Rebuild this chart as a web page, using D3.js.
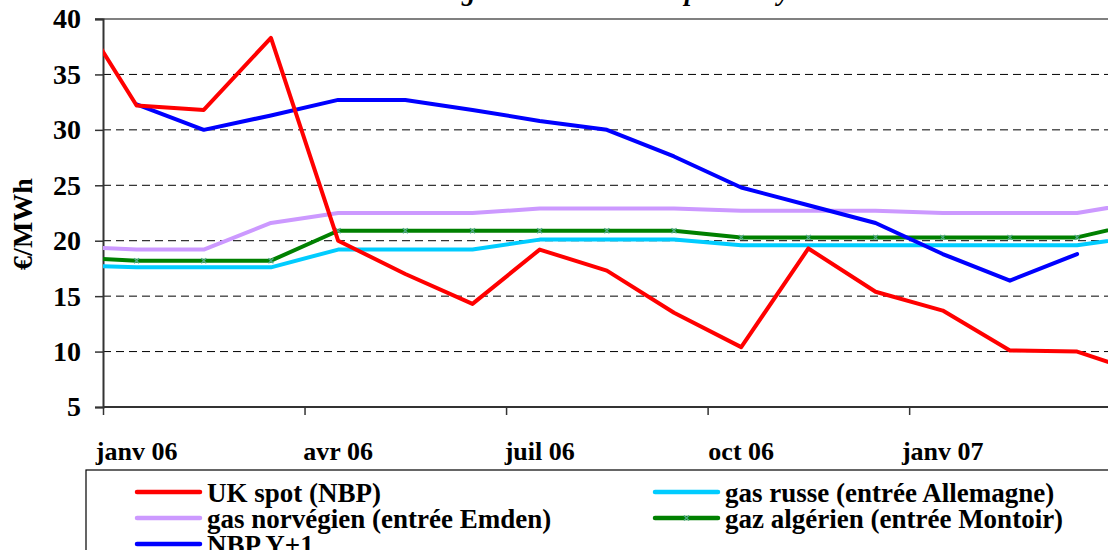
<!DOCTYPE html>
<html><head><meta charset="utf-8">
<script src="https://cdn.jsdelivr.net/npm/d3@7"></script>
<style>
html,body{margin:0;padding:0;background:#fff;}
svg{display:block;}
</style></head>
<body><svg id="c" width="1108" height="550"></svg>
<script>
// Monthly categories (Dec 05 and Apr 07 lie just outside the visible plot and are clipped)
const months = ["déc 05","janv 06","févr 06","mars 06","avr 06","mai 06","juin 06","juil 06","août 06","sept 06","oct 06","nov 06","déc 06","janv 07","févr 07","mars 07","avr 07"];
const monthIndex = [-1,0,1,2,3,4,5,6,7,8,9,10,11,12,13,14,15];
const ukSpot   = [41.9,32.2,31.8,38.3,20.0,17.0,14.3,19.2,17.3,13.5,10.4,19.3,15.4,13.7,10.1,10.0,8.0];
const gasRusse = [17.8,17.6,17.6,17.6,19.2,19.2,19.2,20.1,20.1,20.1,19.6,19.6,19.6,19.6,19.6,19.6,20.4];
const gasNorv  = [19.5,19.2,19.2,21.6,22.5,22.5,22.5,22.9,22.9,22.9,22.7,22.7,22.7,22.5,22.5,22.5,23.5];
const gazAlger = [18.5,18.2,18.2,18.2,20.9,20.9,20.9,20.9,20.9,20.9,20.3,20.3,20.3,20.3,20.3,20.3,21.7];
const nbpY1    = [null,32.3,30.0,31.3,32.7,32.7,31.8,30.8,30.0,27.6,24.8,23.2,21.6,18.8,16.4,18.8,null];
const tickLabels = ["janv 06","avr 06","juil 06","oct 06","janv 07"];
const tickLabelIdx = [0,3,6,9,12];
const yTicks = [5,10,15,20,25,30,35,40];
const titleText = "Prix du gaz naturel en Europe et moyenne mensuelle";
const seriesNames = ["UK spot (NBP)","gas russe (entrée Allemagne)","gas norvégien (entrée Emden)","gaz algérien (entrée Montoir)","NBP Y+1"];

const FONT = "'Liberation Serif','Times New Roman',serif";
const series = [
  {name:seriesNames[0], values:ukSpot,   color:"#FF0000"},
  {name:seriesNames[1], values:gasRusse, color:"#00CCFF"},
  {name:seriesNames[2], values:gasNorv,  color:"#CC99FF"},
  {name:seriesNames[3], values:gazAlger, color:"#008000", marker:true},
  {name:seriesNames[4], values:nbpY1,    color:"#0000FF"}
];

const svg = d3.select("#c");
const L = 103, R = 1108, T = 19, B = 407;
const x = d3.scaleLinear().domain([-0.5, 14.46]).range([L, R]);
const y = d3.scaleLinear().domain([5, 40]).range([B, T]);

function txt(sel, size, italic) {
  return sel.style("font-family", FONT).style("font-weight", "bold")
    .style("font-style", italic ? "italic" : "normal").style("font-size", size + "px").attr("fill", "#000");
}

// title (only the descenders peek into the picture)
txt(svg.append("text").attr("x", 372).attr("y", -0.5), 27, true).text(titleText);

// gridlines
const gridVals = yTicks.filter(v => v !== 5 && v !== 40);
svg.append("g").selectAll("line").data(gridVals).join("line")
  .attr("x1", L).attr("x2", R).attr("y1", d => y(d)).attr("y2", d => y(d))
  .attr("stroke", "#000").attr("stroke-width", 1).attr("stroke-dasharray", "8,5");
// top border
svg.append("line").attr("x1", L - 8).attr("x2", R).attr("y1", y(40)).attr("y2", y(40))
  .attr("stroke", "#808080").attr("stroke-width", 2);

// y axis
const yAxis = d3.axisLeft(y).tickValues(yTicks).tickSize(8).tickPadding(14).tickFormat(d3.format("d"));
const gy = svg.append("g").attr("transform", `translate(${L},0)`).call(yAxis);
gy.select(".domain").attr("stroke", "#333").attr("stroke-width", 2);
gy.selectAll(".tick line").attr("stroke", "#333").attr("stroke-width", 1.5);
txt(gy.selectAll(".tick text"), 28, false);

// x axis: ticks at month boundaries, labels centered on months
const xTickVals = [-0.5, 2.5, 5.5, 8.5, 11.5];
const xAxis = d3.axisBottom(x).tickValues(xTickVals).tickSize(8).tickFormat("");
const gx = svg.append("g").attr("transform", `translate(0,${B})`).call(xAxis);
gx.select(".domain").attr("stroke", "#333").attr("stroke-width", 2).attr("d", `M${L},0H${R}`);
gx.selectAll(".tick line").attr("stroke", "#333").attr("stroke-width", 1.5);
txt(svg.append("g").selectAll("text").data(tickLabelIdx).join("text")
  .attr("x", d => x(d)).attr("y", 460).attr("text-anchor", "middle"), 26, false)
  .text((d, i) => tickLabels[i]);

// y title
txt(svg.append("text").attr("transform", "rotate(-90)").attr("x", -224).attr("y", 32)
  .attr("text-anchor", "middle"), 28, false).text("€/MWh");

// clip
svg.append("clipPath").attr("id", "clip").append("rect")
  .attr("x", L).attr("y", T - 3).attr("width", R - L + 5).attr("height", B - T + 3);

const plot = svg.append("g").attr("clip-path", "url(#clip)");
const line = d3.line().defined(d => d[1] != null).x(d => x(d[0])).y(d => y(d[1]));
const drawOrder = [2, 3, 1, 4, 0];
drawOrder.forEach(si => {
  const s = series[si];
  const pts = monthIndex.map((m, i) => [m, s.values[i]]);
  plot.append("path").datum(pts).attr("d", line)
    .attr("fill", "none").attr("stroke", s.color).attr("stroke-width", 4)
    .attr("stroke-linejoin", "round").attr("stroke-linecap", "round");
  if (s.marker) {
    plot.append("g").selectAll("path").data(pts.filter(d => d[1] != null)).join("path")
      .attr("transform", d => `translate(${x(d[0])},${y(d[1])})`)
      .attr("d", "M-2.5,-2.5L2.5,2.5M-2.5,2.5L2.5,-2.5")
      .attr("stroke", "#4fa888").attr("stroke-width", 1.3).attr("fill", "none");
  }
});

// legend
svg.append("rect").attr("x", 86).attr("y", 470).attr("width", 1100).attr("height", 200)
  .attr("fill", "none").attr("stroke", "#000").attr("stroke-width", 1.2);
const legendCells = [
  {si:0, col:0, row:0}, {si:1, col:1, row:0},
  {si:2, col:0, row:1}, {si:3, col:1, row:1},
  {si:4, col:0, row:2}
];
const colX = [137, 655], rowBase = [502, 528, 554];
legendCells.forEach(c => {
  const s = series[c.si];
  const g = svg.append("g").attr("transform", `translate(${colX[c.col]},${rowBase[c.row]})`);
  g.append("line").attr("x1", 0).attr("x2", 63).attr("y1", -10).attr("y2", -10)
    .attr("stroke", s.color).attr("stroke-width", 4.5).attr("stroke-linecap", "round");
  if (s.marker) {
    g.append("path").attr("transform", "translate(31.5,-10)")
      .attr("d", "M-2.5,-2.5L2.5,2.5M-2.5,2.5L2.5,-2.5")
      .attr("stroke", "#4fa888").attr("stroke-width", 1.3);
  }
  txt(g.append("text").attr("x", 70).attr("y", 0), 27, false).text(s.name);
});
</script></body></html>
